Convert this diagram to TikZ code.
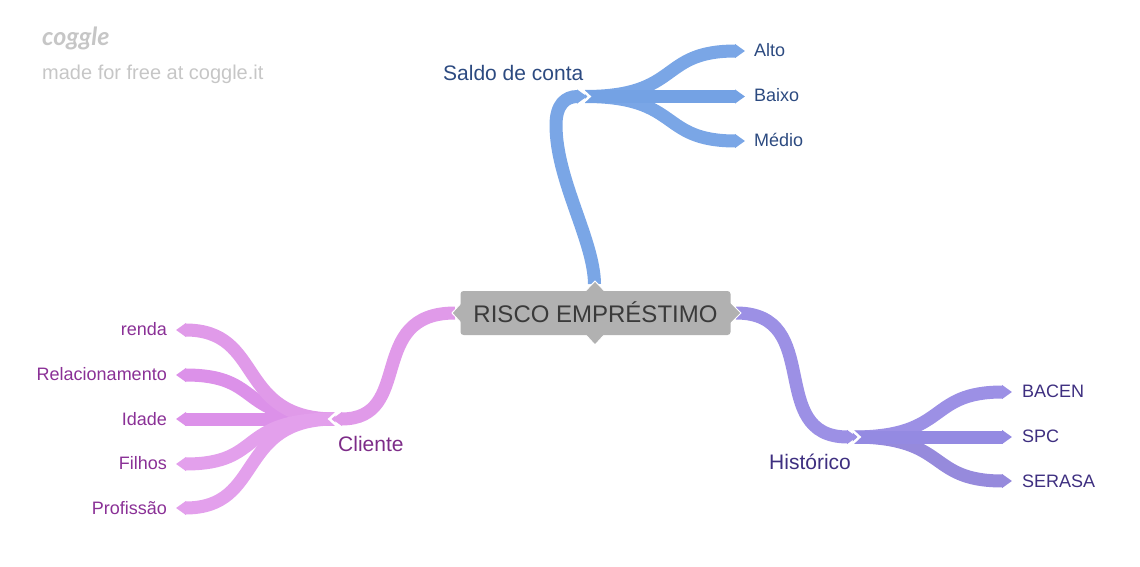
\documentclass[tikz,border=0pt]{standalone}
\usepackage{fontspec}
\setmainfont{Liberation Sans}
\newfontfamily\logofont{Lato}
\usetikzlibrary{arrows.meta,calc,positioning}
\definecolor{saldoblue}{HTML}{7AA6E6}
\definecolor{saldomid}{HTML}{74A2E4}
\definecolor{saldotext}{HTML}{2C4A80}
\definecolor{histpurple}{HTML}{9C90E5}
\definecolor{histmid}{HTML}{948AE2}
\definecolor{histtext}{HTML}{3E2F80}
\definecolor{clientpink}{HTML}{E09AE9}
\definecolor{clientdark}{HTML}{DC91E9}
\definecolor{clientlight}{HTML}{E3A0EC}
\definecolor{clienttext}{HTML}{7D2C88}
\definecolor{leaftext}{HTML}{8A3096}
\definecolor{rootgray}{HTML}{B1B1B1}
\definecolor{roottext}{HTML}{3A3A3A}
\definecolor{logogray}{HTML}{C6C6C6}
\tikzset{
  ribbon/.style={line width=13pt,-{Triangle[length=10pt,width=13.5pt]}},
  notch/.style={draw=white,line width=2.5pt},
  leaf/.style={inner sep=0pt,text height=12pt,text depth=3pt,font=\fontsize{18}{20}\selectfont},
  branch/.style={inner sep=0pt,text height=14pt,text depth=4pt,font=\fontsize{21}{24}\selectfont},
  rootbox/.style={fill=rootgray,rounded corners=3pt,minimum width=270pt,minimum height=44pt,inner sep=0pt,
    text height=18pt,text depth=0pt,text=roottext,font=\fontsize{24}{28}\selectfont},
  rootwedge/.style={fill=rootgray,draw=white,line width=1pt,line join=miter}
}
\begin{document}
\begin{tikzpicture}[x=1pt,y=-1pt]
\useasboundingbox (0,0) rectangle (1140,567);
\node[anchor=west,inner sep=0pt,text=logogray,font=\logofont\itshape\bfseries\fontsize{25}{30}\selectfont] (logo) at (42,38) {coggle};
\node[anchor=west,inner sep=0pt,text=logogray,font=\fontsize{20}{24}\selectfont] (madefor) at (42,74.6) {made for free at coggle.it};
% root attachment points
\coordinate (riscotop) at (594.5,284);
\coordinate (riscobottom) at (595,335);
\coordinate (riscoleft) at (455,313);
\coordinate (riscoright) at (736,313);
% hubs
\coordinate (saldohub) at (587,96.5);
\coordinate (histhub) at (857,437);
\coordinate (clienthub) at (332,419);
% labels
\node[branch,anchor=west,text=saldotext] (saldo) at (443,75.6) {Saldo de conta};
\node[branch,anchor=west,text=histtext] (hist) at (769,464) {Histórico};
\node[branch,anchor=west,text=clienttext] (cliente) at (338,446) {Cliente};
\node[leaf,anchor=west,text=saldotext] (alto) at (754,52) {Alto};
\node[leaf,anchor=west,text=saldotext] (baixo) at (754,97) {Baixo};
\node[leaf,anchor=west,text=saldotext] (medio) at (754,142) {Médio};
\node[leaf,anchor=west,text=histtext] (bacen) at (1022,393) {BACEN};
\node[leaf,anchor=west,text=histtext] (spc) at (1022,438) {SPC};
\node[leaf,anchor=west,text=histtext] (serasa) at (1022,483) {SERASA};
\node[leaf,anchor=east,text=leaftext] (renda) at (167,331) {renda};
\node[leaf,anchor=east,text=leaftext] (relac) at (167,376) {Relacionamento};
\node[leaf,anchor=east,text=leaftext] (idade) at (167,421) {Idade};
\node[leaf,anchor=east,text=leaftext] (filhos) at (167,465) {Filhos};
\node[leaf,anchor=east,text=leaftext] (profissao) at (167,510) {Profissão};
% free ends of the ribbons, level with the tips
\coordinate (altoend) at (745,51);
\coordinate (baixoend) at (745,96.5);
\coordinate (medioend) at (745,141);
\coordinate (bacenend) at (1012,392);
\coordinate (spcend) at (1012,437);
\coordinate (serasaend) at (1012,481);
\coordinate (rendaend) at (176,330);
\coordinate (relacend) at (176,375);
\coordinate (idadeend) at (176,419);
\coordinate (filhosend) at (176,464);
\coordinate (profissaoend) at (176,508);
% saldo de conta
\draw[ribbon,saldoblue,shorten <=-2pt] (saldohub) .. controls (682,96.5) and (658,51) .. (altoend);
\draw[ribbon,saldoblue,shorten <=-2pt] (saldohub) .. controls (682,96.5) and (658,141) .. (medioend);
\draw[ribbon,saldomid,shorten <=-2pt] (saldohub) -- (baixoend);
\draw[ribbon,saldoblue] (riscotop) .. controls (594,240) and (556,180) .. (556,125) .. controls (556,105) and (565,96.5) .. (saldohub);
\draw[notch] ($(saldohub)+(-4.5,-6.5)$) -- ($(saldohub)+(2.5,0)$) -- ($(saldohub)+(-4.5,6.5)$);
% historico
\draw[ribbon,histpurple,shorten <=-4pt] (histhub) .. controls (950,437) and (926,392) .. (bacenend);
\draw[ribbon,histpurple!96!black,shorten <=-4pt] (histhub) .. controls (950,437) and (926,481) .. (serasaend);
\draw[ribbon,histmid,shorten <=-4pt] (histhub) -- (spcend);
\draw[ribbon,histpurple] (riscoright) .. controls (825,313) and (765,437) .. (histhub);
\draw[notch] ($(histhub)+(-4.5,-6.5)$) -- ($(histhub)+(2.5,0)$) -- ($(histhub)+(-4.5,6.5)$);
% cliente
\draw[ribbon,clientdark,shorten <=-3pt] (clienthub) .. controls (235,419) and (265,375) .. (relacend);
\draw[ribbon,clientdark,shorten <=-3pt] (clienthub) -- (idadeend);
\draw[ribbon,clientpink,shorten <=-3pt] (clienthub) .. controls (235,419) and (265,330) .. (rendaend);
\draw[ribbon,clientlight,shorten <=-3pt] (clienthub) .. controls (235,419) and (265,508) .. (profissaoend);
\draw[ribbon,clientlight,shorten <=-3pt] (clienthub) .. controls (235,419) and (265,464) .. (filhosend);
\draw[ribbon,clientpink] (riscoleft) .. controls (365,313) and (415,419) .. (clienthub);
\draw[notch] ($(clienthub)+(4.5,-6.5)$) -- ($(clienthub)+(-2.5,0)$) -- ($(clienthub)+(4.5,6.5)$);
% root on top
\draw[rootwedge] ($(riscotop)+(-11,9)$) -- ($(riscotop)+(0.5,-3)$) -- ($(riscotop)+(12,9)$);
\draw[rootwedge] ($(riscobottom)+(-11,-2)$) -- ($(riscobottom)+(0,10)$) -- ($(riscobottom)+(11,-2)$);
\draw[rootwedge] ($(riscoleft)+(8,-12)$) -- ($(riscoleft)+(-3,0)$) -- ($(riscoleft)+(8,12)$);
\draw[rootwedge] ($(riscoright)+(-7,-12)$) -- ($(riscoright)+(5,0)$) -- ($(riscoright)+(-7,12)$);
\node[rootbox] (risco) at (595.5,313) {RISCO EMPRÉSTIMO};
\end{tikzpicture}
\end{document}
